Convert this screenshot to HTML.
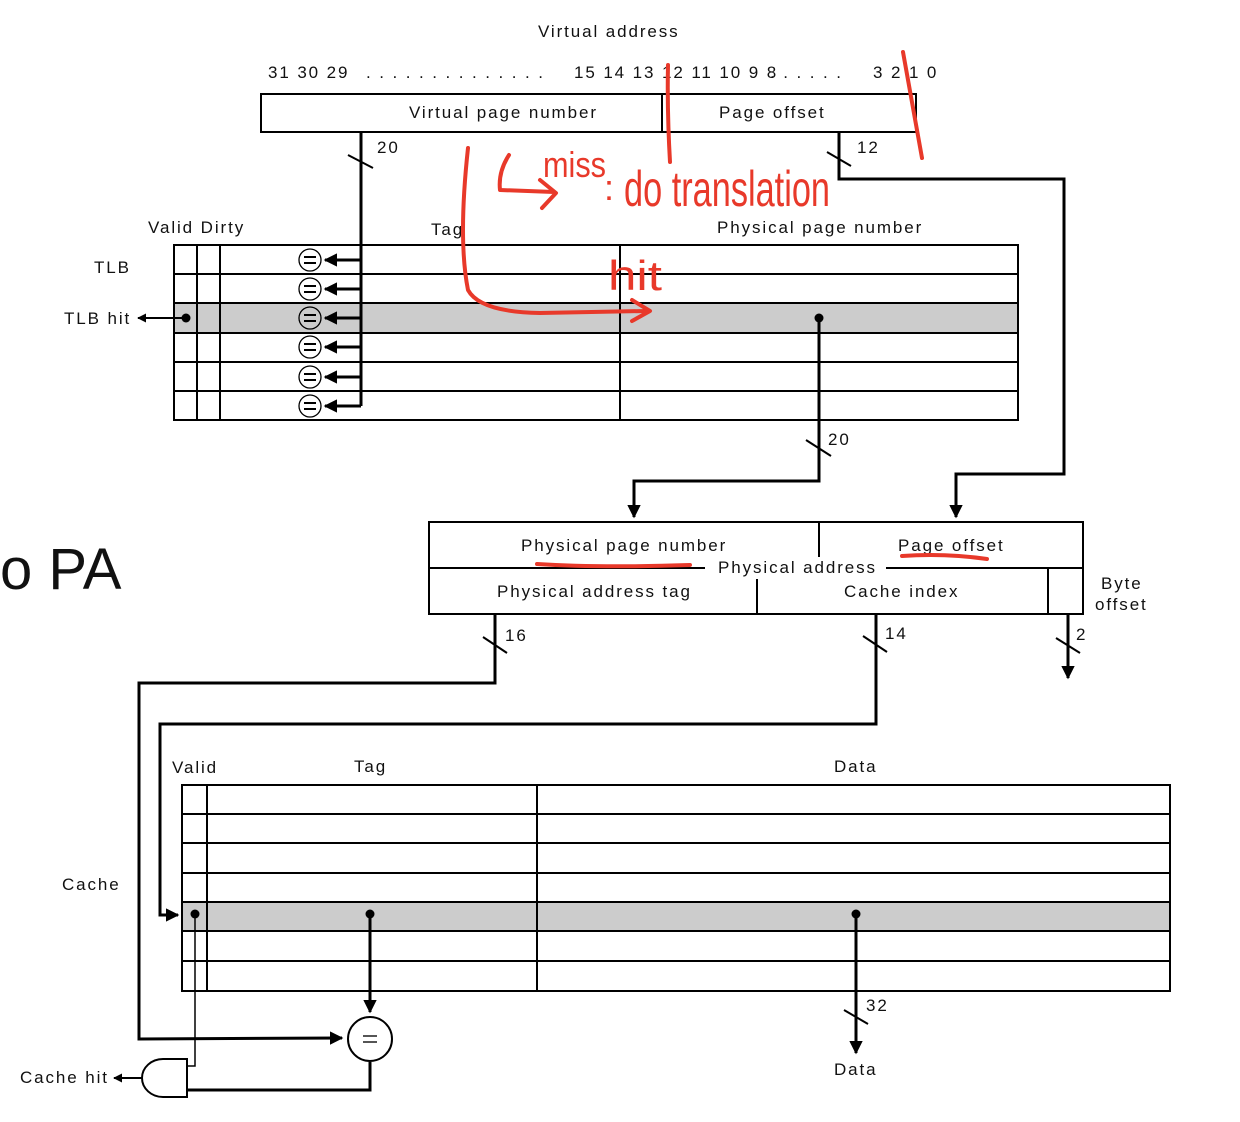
<!DOCTYPE html>
<html><head><meta charset="utf-8"><style>
html,body{margin:0;padding:0;background:#fff;}
svg{display:block;}
text{font-family:"Liberation Sans",sans-serif;font-size:17px;letter-spacing:1.9px;fill:#111;}
.red{fill:none;stroke:#e8392a;stroke-width:4;stroke-linecap:round;stroke-linejoin:round;}
.rt{fill:#e8392a;font-family:"Liberation Sans Narrow","Liberation Sans",sans-serif;letter-spacing:0;}
</style></head><body>
<svg width="1240" height="1122" viewBox="0 0 1240 1122" xmlns="http://www.w3.org/2000/svg">
<defs>
<marker id="ah" viewBox="0 0 10 10" refX="9" refY="5" markerWidth="4.5" markerHeight="4.5" orient="auto-start-reverse"><path d="M0,0 L10,5 L0,10 z" fill="#000"/></marker>
</defs>
<g stroke="#000" fill="none" stroke-width="2">
<rect x="261" y="94" width="655" height="38"/>
<line x1="662" y1="94" x2="662" y2="132"/>
<rect x="174" y="303" width="844" height="30" fill="#cccccc" stroke="none"/>
<rect x="174" y="245" width="844" height="175"/>
<line x1="174" y1="274" x2="1018" y2="274"/><line x1="174" y1="303" x2="1018" y2="303"/>
<line x1="174" y1="333" x2="1018" y2="333"/><line x1="174" y1="362" x2="1018" y2="362"/>
<line x1="174" y1="391" x2="1018" y2="391"/>
<line x1="197" y1="245" x2="197" y2="420"/><line x1="220" y1="245" x2="220" y2="420"/>
<line x1="620" y1="245" x2="620" y2="420"/>
<polyline points="361,133 361,406" stroke-width="3"/>
<line x1="348" y1="155" x2="373" y2="168"/>
</g>
<g stroke="#000" stroke-width="3" fill="none">
<line x1="361" y1="260" x2="325" y2="260" marker-end="url(#ah)"/>
<line x1="361" y1="289" x2="325" y2="289" marker-end="url(#ah)"/>
<line x1="361" y1="318" x2="325" y2="318" marker-end="url(#ah)"/>
<line x1="361" y1="347" x2="325" y2="347" marker-end="url(#ah)"/>
<line x1="361" y1="377" x2="325" y2="377" marker-end="url(#ah)"/>
<line x1="361" y1="406" x2="325" y2="406" marker-end="url(#ah)"/>
</g>
<g stroke="#000" stroke-width="1.3" fill="#fff">
<circle cx="310" cy="260" r="11"/><circle cx="310" cy="289" r="11"/><circle cx="310" cy="318" r="11" fill="#ccc"/>
<circle cx="310" cy="347" r="11"/><circle cx="310" cy="377" r="11"/><circle cx="310" cy="406" r="11"/>
</g>
<g stroke="#000" stroke-width="2">
<line x1="304" y1="257" x2="316" y2="257"/><line x1="304" y1="263" x2="316" y2="263"/>
<line x1="304" y1="286" x2="316" y2="286"/><line x1="304" y1="292" x2="316" y2="292"/>
<line x1="304" y1="315" x2="316" y2="315"/><line x1="304" y1="321" x2="316" y2="321"/>
<line x1="304" y1="344" x2="316" y2="344"/><line x1="304" y1="350" x2="316" y2="350"/>
<line x1="304" y1="374" x2="316" y2="374"/><line x1="304" y1="380" x2="316" y2="380"/>
<line x1="304" y1="403" x2="316" y2="403"/><line x1="304" y1="409" x2="316" y2="409"/>
</g>
<circle cx="186" cy="318" r="4.5" fill="#000"/>
<line x1="186" y1="318" x2="138" y2="318" stroke="#000" stroke-width="2" marker-end="url(#ah)"/>
<g stroke="#000" stroke-width="3" fill="none">
<polyline points="839,133 839,179 1064,179 1064,474 956,474 956,517" marker-end="url(#ah)"/>
<line x1="827" y1="152" x2="851" y2="166" stroke-width="2"/>
<polyline points="819,318 819,481 634,481 634,517" marker-end="url(#ah)"/>
<line x1="806" y1="440" x2="831" y2="456" stroke-width="2"/>
</g>
<circle cx="819" cy="318" r="4.5" fill="#000"/>
<g stroke="#000" stroke-width="2" fill="none">
<rect x="429" y="522" width="654" height="92"/>
<line x1="819" y1="522" x2="819" y2="557"/>
<line x1="429" y1="568" x2="705" y2="568"/>
<line x1="886" y1="568" x2="1083" y2="568"/>
<line x1="757" y1="579" x2="757" y2="614"/>
<line x1="1048" y1="568" x2="1048" y2="614"/>
</g>
<g stroke="#000" stroke-width="2" fill="none">
<rect x="182" y="902" width="988" height="29" fill="#cccccc" stroke="none"/>
<rect x="182" y="785" width="988" height="206"/>
<line x1="182" y1="814" x2="1170" y2="814"/><line x1="182" y1="843" x2="1170" y2="843"/>
<line x1="182" y1="873" x2="1170" y2="873"/><line x1="182" y1="902" x2="1170" y2="902"/>
<line x1="182" y1="931" x2="1170" y2="931"/><line x1="182" y1="961" x2="1170" y2="961"/>
<line x1="207" y1="785" x2="207" y2="991"/><line x1="537" y1="785" x2="537" y2="991"/>
</g>
<g stroke="#000" stroke-width="3" fill="none">
<polyline points="495,615 495,683 139,683 139,1039 342,1038" marker-end="url(#ah)"/>
<line x1="483" y1="637" x2="507" y2="653" stroke-width="2"/>
<polyline points="876,615 876,724 160,724 160,915 178,915" marker-end="url(#ah)"/>
<line x1="863" y1="636" x2="887" y2="652" stroke-width="2"/>
<line x1="1068" y1="615" x2="1068" y2="678" marker-end="url(#ah)"/>
<line x1="1056" y1="638" x2="1080" y2="653" stroke-width="2"/>
<line x1="370" y1="914" x2="370" y2="1012" marker-end="url(#ah)"/>
<line x1="856" y1="914" x2="856" y2="1053" marker-end="url(#ah)"/>
<line x1="844" y1="1010" x2="868" y2="1024" stroke-width="2"/>
<polyline points="370,1062 370,1090 186,1090"/>
</g>
<circle cx="195" cy="914" r="4.5" fill="#000"/><circle cx="370" cy="914" r="4.5" fill="#000"/><circle cx="856" cy="914" r="4.5" fill="#000"/>
<circle cx="370" cy="1039" r="22" fill="#fff" stroke="#000" stroke-width="2"/>
<line x1="363" y1="1036" x2="377" y2="1036" stroke="#555" stroke-width="2"/><line x1="363" y1="1042" x2="377" y2="1042" stroke="#555" stroke-width="2"/>
<polyline points="195,914 195,1066 186,1066" fill="none" stroke="#000" stroke-width="1.5"/>
<path d="M187,1059 L163,1059 A21,19 0 0 0 163,1097 L187,1097 Z" fill="#fff" stroke="#000" stroke-width="2"/>
<line x1="142" y1="1078" x2="114" y2="1078" stroke="#000" stroke-width="2" marker-end="url(#ah)"/>
<text x="538" y="37">Virtual address</text>
<text x="268" y="78">31 30 29</text>
<text x="366" y="78">. . . . . . . . . . . . . .</text>
<text x="574" y="78">15 14 13 12 11 10 9 8</text>
<text x="770" y="78">. . . . . .</text>
<text x="873" y="78">3 2 1 0</text>
<text x="409" y="118">Virtual page number</text>
<text x="719" y="118">Page offset</text>
<text x="377" y="153">20</text>
<text x="857" y="153">12</text>
<text x="148" y="233">Valid Dirty</text>
<text x="431" y="235">Tag</text>
<text x="717" y="233">Physical page number</text>
<text x="94" y="273">TLB</text>
<text x="64" y="324">TLB hit</text>
<text x="828" y="445">20</text>
<text x="521" y="551">Physical page number</text>
<text x="898" y="551">Page offset</text>
<text x="718" y="573">Physical address</text>
<text x="497" y="597">Physical address tag</text>
<text x="844" y="597">Cache index</text>
<text x="1101" y="589">Byte</text>
<text x="1095" y="610">offset</text>
<text x="505" y="641">16</text>
<text x="885" y="639">14</text>
<text x="1076" y="640">2</text>
<text x="0" y="589" style="font-size:58px;letter-spacing:0">o PA</text>
<text x="172" y="773">Valid</text>
<text x="354" y="772">Tag</text>
<text x="834" y="772">Data</text>
<text x="62" y="890">Cache</text>
<text x="866" y="1011">32</text>
<text x="834" y="1075">Data</text>
<text x="20" y="1083">Cache hit</text>
<path class="red" d="M668,65 Q667,110 670,162"/>
<path class="red" d="M903,52 L922,158"/>
<path class="red" d="M509,155 Q498,172 500,190 L554,192 M540,180 L556,193 L542,208"/>
<path class="red" d="M468,148 Q458,240 468,290 Q480,312 540,313 L645,311 M632,300 L650,311 L632,321"/>
<path class="red" d="M537,564 Q600,568 690,565"/>
<path class="red" d="M902,556 Q945,553 987,559"/>
<text class="rt" x="543" y="177" textLength="63" lengthAdjust="spacingAndGlyphs" style="font-size:36px">miss</text>
<text class="rt" x="604" y="200" style="font-size:36px">:</text>
<text class="rt" x="624" y="206" textLength="206" lengthAdjust="spacingAndGlyphs" style="font-size:50px">do translation</text>
<text class="rt" x="608" y="290" textLength="54" lengthAdjust="spacingAndGlyphs" style="font-size:42px">hit</text>
</svg>
</body></html>
